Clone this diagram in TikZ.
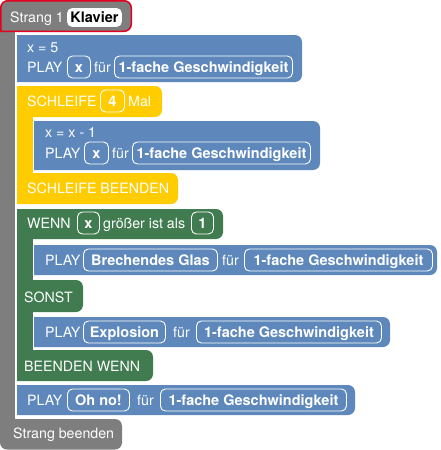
\documentclass[tikz,border=0pt]{standalone}
\usepackage{fontspec}
\setmainfont{TeX Gyre Heros}
\definecolor{cblue}{RGB}{94,136,187}
\definecolor{cyellow}{RGB}{255,204,0}
\definecolor{cgreen}{RGB}{64,124,80}
\definecolor{cgray}{RGB}{126,126,126}
\definecolor{cred}{RGB}{226,0,30}
\newcommand\rblk[5]{\fill[#1] (#2,#3) -- ({#4-7},#3) .. controls ({#4-3.13},#3) and (#4,{#3+3.13}) .. (#4,{#3+7}) -- (#4,{#5-7}) .. controls (#4,{#5-3.13}) and ({#4-3.13},#5) .. ({#4-7},#5) -- (#2,#5) -- cycle;}
\begin{document}
\begin{tikzpicture}[x=1pt,y=-1pt,
 lbl/.style={anchor=base west, inner sep=0pt, text=white, font=\fontsize{14.2}{16}\selectfont},
 slot/.style={anchor=west, draw=white, line width=0.9pt, rounded corners=5pt, text=white,
   font=\fontsize{14.5}{16}\selectfont\bfseries, minimum height=22pt, inner xsep=0pt, inner ysep=0pt,
   text height=10pt, text depth=0pt, align=center}]
\useasboundingbox (0,0) rectangle (440,450);
% gray thread
\fill[cgray] (0,20) rectangle (15,430);
\filldraw[fill=cgray, draw=cred, line width=1.5pt] (0.75,31.25) -- (0.75,7.75) .. controls (0.75,3.9) and (3.9,0.75) .. (7.75,0.75) -- (124.25,0.75) .. controls (128.1,0.75) and (131.25,3.9) .. (131.25,7.75) -- (131.25,24.25) .. controls (131.25,28.1) and (128.1,31.25) .. (124.25,31.25) -- cycle;
\fill[cgray] (0,419) -- (115,419) .. controls (118.87,419) and (122,422.13) .. (122,426) -- (122,442.5) .. controls (122,446.37) and (118.87,449.5) .. (115,449.5) -- (7,449.5) .. controls (3.13,449.5) and (0,446.37) .. (0,442.5) -- cycle;
% blue 1
\rblk{cblue}{17}{35}{302}{82}
% loop
\rblk{cyellow}{17}{86}{162}{117}
\fill[cyellow] (17,110) rectangle (32.5,180);
\rblk{cyellow}{17}{173}{178}{204}
\rblk{cblue}{34}{121}{320}{170}
% if
\rblk{cgreen}{17}{209}{223}{239}
\fill[cgreen] (17,230) rectangle (32.5,360);
\rblk{cgreen}{17}{280}{83}{312}
\rblk{cgreen}{17}{350}{153}{381}
\rblk{cblue}{34}{245}{437}{275}
\rblk{cblue}{34}{317}{390}{347}
% last
\rblk{cblue}{17}{385}{355}{415}
% texts
\node[lbl] (t0) at (10,22.5) {Strang 1};
\node[slot, fill=white, text=black, minimum height=18pt, minimum width=54pt] (klav) at (67,17.5) {Klavier};
\node[lbl] (r1a) at (27,52) {x = 5};
\node[lbl] (r1b) at (27,72) {PLAY};
\node[slot, minimum width=23pt] (r1x) at (67,67) {x};
\node[lbl] (r1f) at (94,72) {für};
\node[slot, minimum width=178pt] (r1g) at (114,67) {1-fache Geschwindigkeit};
\node[lbl] (y1) at (27,106) {SCHLEIFE};
\node[slot, minimum width=24pt] (y4) at (100,101) {4};
\node[lbl] (y2) at (128,106) {Mal};
\node[lbl] (r2a) at (45,137) {x = x - 1};
\node[lbl] (r2b) at (45,158) {PLAY};
\node[slot, minimum width=24pt] (r2x) at (84,153) {x};
\node[lbl] (r2f) at (112,158) {für};
\node[slot, minimum width=178pt] (r2g) at (132,153) {1-fache Geschwindigkeit};
\node[lbl] (y3) at (27,193) {SCHLEIFE BEENDEN};
\node[lbl] (g1) at (27,228) {WENN};
\node[slot, minimum width=22pt] (gx) at (77,223) {x};
\node[lbl] (g2) at (103,228) {größer ist als};
\node[slot, minimum width=22pt] (g3) at (191,223) {1};
\node[lbl] (r3b) at (45,265) {PLAY};
\node[slot, minimum width=134pt] (r3s) at (83,260) {Brechendes Glas};
\node[lbl] (r3f) at (222,265) {für};
\node[slot, minimum width=188pt] (r3g) at (244,260) {1-fache Geschwindigkeit};
\node[lbl] (g4) at (24,302) {SONST};
\node[lbl] (r4b) at (45,337) {PLAY};
\node[slot, minimum width=82pt] (r4s) at (83,332) {Explosion};
\node[lbl] (r4f) at (173,337) {für};
\node[slot, minimum width=185pt] (r4g) at (196,332) {1-fache Geschwindigkeit};
\node[lbl] (g5) at (24,371) {BEENDEN WENN};
\node[lbl] (r5b) at (27,405) {PLAY};
\node[slot, minimum width=62pt] (r5s) at (67,400) {Oh no!};
\node[lbl] (r5f) at (137,405) {für};
\node[slot, minimum width=186pt] (r5g) at (160,400) {1-fache Geschwindigkeit};
\node[lbl] (t9) at (13,438) {Strang beenden};
\end{tikzpicture}
\end{document}
